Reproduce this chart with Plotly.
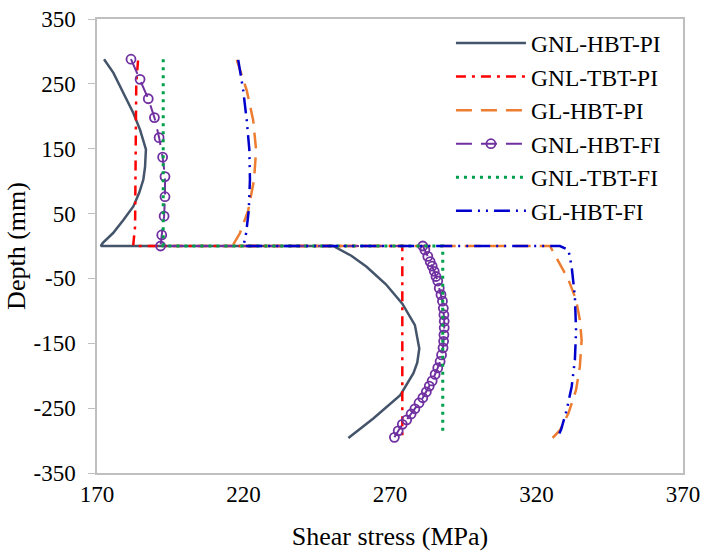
import plotly.graph_objects as go

# ---- data (shear stress MPa, depth mm) ----
gnl_hbt_pi_x = [172.4, 175.6, 179.0, 182.4, 184.7, 186.7, 186.4, 185.8, 184.4, 182.4, 179.0, 175.5, 172.0, 171.3,
                250.6, 256.8, 262.0, 268.6, 274.2, 278.5, 280.0, 279.3, 278.0, 273.5, 264.3, 255.8]
gnl_hbt_pi_y = [288, 267, 236, 205, 179, 149, 122, 102, 82, 61, 40, 20, 5, 0,
                0, -15, -32, -59, -89, -122, -158, -180, -196, -230, -266, -296]

gnl_tbt_pi_x = [184.0, 183.4, 183.3, 183.1, 183.0, 182.4, 182.4, 274.2, 274.2, 274.2]
gnl_tbt_pi_y = [286, 250, 200, 100, 30, 3, 0, 0, -150, -295]

gl_hbt_pi_x = [217.7, 221.1, 223.3, 224.3, 223.6, 221.6, 218.8, 216.5, 216.2,
               324.6, 328.0, 330.9, 333.5, 334.8, 335.4, 334.8, 333.5, 330.9, 328.0, 325.5]
gl_hbt_pi_y = [287, 240, 194, 148, 102, 55, 20, 4, 0,
               0, -27, -52, -83, -114, -145, -186, -222, -258, -284, -296]

gnl_hbt_fi_x = [181.6, 184.7, 187.5, 189.6, 191.2, 192.4, 193.2, 193.2, 192.9, 192.1, 191.7,
                281.2, 281.9, 282.9, 283.7, 284.4, 285.1, 285.7, 286.3, 286.8, 287.4, 287.9, 288.2,
                288.4, 288.5, 288.5, 288.4, 288.3, 288.1, 287.6, 287.1, 286.3, 285.4, 284.4, 283.4,
                282.4, 281.2, 279.9, 278.5, 277.2, 275.7, 274.2, 272.8, 271.5]
gnl_hbt_fi_y = [288, 257, 227, 198, 167, 137, 107, 76, 46, 17, 0,
                0, -6, -16, -24, -31, -39, -47, -54, -65, -75, -85, -96,
                -106, -116, -126, -137, -147, -157, -168, -178, -188, -198, -208, -216,
                -225, -234, -242, -251, -259, -268, -275, -285, -295]

gnl_tbt_fi_x = [192.6, 192.6, 288.0, 288.0]
gnl_tbt_fi_y = [288, 0, 0, -292]

gl_hbt_fi_x = [218.2, 219.9, 221.1, 222.0, 222.2, 221.8, 220.9, 220.2, 220.0,
               328.0, 330.9, 332.0, 333.1, 333.5, 333.1, 332.0, 330.3, 328.4, 327.8]
gl_hbt_fi_y = [287, 240, 194, 148, 102, 55, 20, 7, 0,
               0, -6, -32, -78, -130, -176, -217, -253, -283, -289]

x_ticks = [170, 220, 270, 320, 370]
y_ticks = [350, 250, 150, 50, -50, -150, -250, -350]
y_tick_labels = ["350", "250", "150", "50", "-50", "-150", "-250", "-350"]

FONT = "Liberation Serif"

series = [
    ("GNL-HBT-PI", gnl_hbt_pi_x, gnl_hbt_pi_y, "#44546A", "solid", 2.5, False),
    ("GNL-TBT-PI", gnl_tbt_pi_x, gnl_tbt_pi_y, "#FF0000", "10px,6px,3px,6px", 2.5, False),
    ("GL-HBT-PI", gl_hbt_pi_x, gl_hbt_pi_y, "#ED7D31", "16px,9px", 2.5, False),
    ("GNL-HBT-FI", gnl_hbt_fi_x, gnl_hbt_fi_y, "#7030A0", "16px,9px", 2.0, True),
    ("GNL-TBT-FI", gnl_tbt_fi_x, gnl_tbt_fi_y, "#00A04A", "3px,5px", 3.0, False),
    ("GL-HBT-FI", gl_hbt_fi_x, gl_hbt_fi_y, "#0000CC", "16px,6px,2px,6px,2px,6px", 2.5, False),
]

fig = go.Figure()
for name, xs, ys, color, dash, w, mk in series:
    fig.add_trace(go.Scatter(
        x=xs, y=ys, name=name,
        mode="lines+markers" if mk else "lines",
        line=dict(color=color, dash=dash, width=w, shape="linear"),
        marker=dict(symbol="circle-open", size=9, color=color, line=dict(width=1.8, color=color)) if mk else None,
    ))

fig.update_layout(
    width=705, height=555,
    margin=dict(l=97, r=22, t=19, b=82),
    paper_bgcolor="white", plot_bgcolor="white",
    font=dict(family=FONT, size=23, color="black"),
    showlegend=True,
    legend=dict(
        x=0.604, y=0.995, xanchor="left", yanchor="top",
        font=dict(family=FONT, size=23.5, color="black"),
        bgcolor="rgba(255,255,255,0)",
        traceorder="normal",
        itemwidth=70,
    ),
    xaxis=dict(
        range=[170, 370], tickvals=x_ticks, ticks="", showgrid=False, zeroline=False,
        showline=True, linecolor="#BFBFBF", linewidth=1.5, mirror=True, automargin=False,
        title=dict(text="Shear stress (MPa)", font=dict(family=FONT, size=26), standoff=20),
        tickfont=dict(family=FONT, size=23),
    ),
    yaxis=dict(
        range=[-350, 350], tickvals=y_ticks, ticktext=y_tick_labels,
        ticks="outside", ticklen=7, tickcolor="#BFBFBF",
        showgrid=False, zeroline=False, ticklabelstandoff=8, automargin=False,
        showline=True, linecolor="#BFBFBF", linewidth=1.5, mirror=True,
        title=dict(text="Depth (mm)", font=dict(family=FONT, size=26), standoff=0),
        tickfont=dict(family=FONT, size=23),
    ),
)

fig.write_html("out.html")
